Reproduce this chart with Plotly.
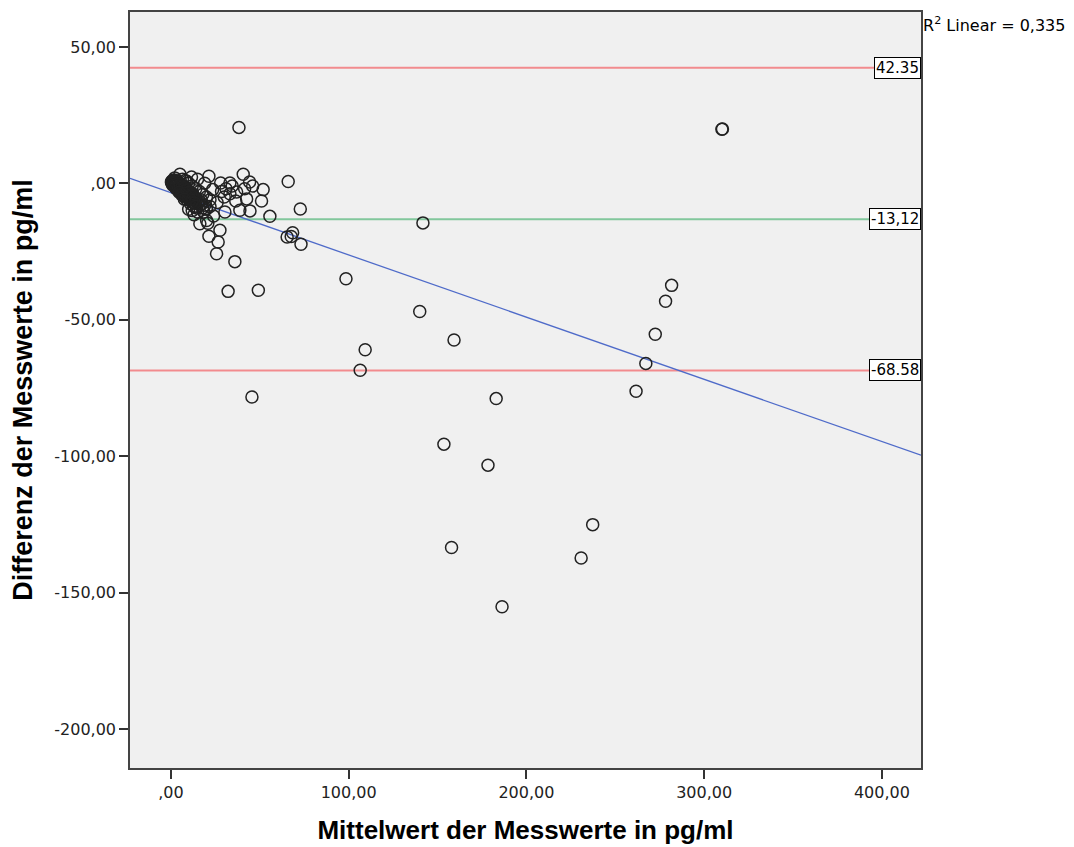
import plotly.graph_objects as go

mean_vals = [
    # outliers / sparse points
    38.3, 310.0, 310.3, 141.8, 98.5, 140.0, 159.3, 109.3, 106.5, 45.6, 32.2, 49.2,
    153.6, 178.4, 157.9, 186.3, 183.0, 230.8, 237.3, 261.7, 267.2, 272.5, 278.3, 281.7,
    # medium cluster
    66.0, 72.8, 68.5, 65.4, 73.2, 67.7, 55.7, 51.9, 51.0, 44.3, 40.7, 42.6, 44.5, 38.8,
    30.4, 27.6, 21.4, 26.6, 25.7, 36.0, 21.4, 28.0, 33.2, 33.2, 37.0, 23.5, 11.6, 5.1,
    20.1, 16.3, 20.8, 34.5, 41.5, 46.0, 30.0, 26.0, 22.0, 17.0, 18.5, 14.5, 13.0, 24.0,
    28.5, 36.5, 31.0,
    # dense blob near origin
    0.5, 1.0, 1.5, 2.0, 2.5, 3.0, 3.5, 4.0, 4.5, 5.0, 5.5, 6.0, 6.5, 7.0, 7.5, 8.0,
    8.5, 9.0, 9.5, 10.0, 10.5, 11.0, 11.5, 12.0, 12.5, 13.0, 13.5, 14.0, 15.0, 16.0,
    16.5, 17.5, 18.0, 19.0, 20.0, 3.0, 5.0, 7.0, 9.0, 11.0, 13.0, 10.0, 12.0, 15.0,
    8.0, 10.0, 12.0, 14.0, 16.0, 18.0, 20.0, 22.0, 2.0, 4.0, 6.0, 8.0, 1.0, 0.8, 2.2,
    6.5, 9.0, 15.0, 19.0,
    0.3, 0.7, 1.2, 1.8, 2.4, 3.2, 3.8, 4.3, 5.2, 5.8, 6.3, 6.8, 7.3, 7.8, 8.3, 8.8,
    9.3, 9.8, 10.3, 10.8, 11.3, 11.8, 12.3, 13.3, 14.3, 1.3, 2.7, 4.7, 6.1, 7.6,
]
diff_vals = [
    20.5, 19.8, 19.9, -14.5, -35.0, -47.0, -57.4, -61.0, -68.5, -78.3, -39.6, -39.2,
    -95.6, -103.3, -133.5, -155.2, -78.9, -137.3, -125.1, -76.2, -66.0, -55.3, -43.2, -37.4,
    0.7, -9.4, -18.1, -19.7, -22.3, -19.5, -12.1, -2.3, -6.5, 0.5, 3.3, -5.7, -10.1, -9.9,
    -10.5, -17.2, -19.4, -21.5, -25.8, -28.7, 2.6, 0.1, 0.1, -3.8, -3.2, -2.3, 2.3, 3.3,
    -13.6, -14.8, -14.6, -1.0, -2.0, -1.0, -5.0, -7.0, -8.5, -6.0, -10.5, -9.0, -11.5, -12.0,
    -3.0, -6.5, -2.0,
    0.8, 1.0, 0.5, 1.2, 0.2, 0.9, -0.5, 0.6, -1.0, 0.0, -1.5, -0.8, -2.0, -1.0, -2.5, -1.8,
    -3.0, -2.2, -3.8, -2.8, -4.2, -3.5, -5.0, -4.0, -5.5, -4.8, -6.5, -5.5, -7.0, -6.5,
    -8.0, -7.5, -9.0, -8.0, -9.5, -2.0, -3.0, -4.5, -6.0, -7.5, -8.5, -9.5, -10.0, -10.5,
    1.0, 0.0, -1.0, -2.0, -3.0, -4.0, -5.0, -6.0, -1.0, -2.5, -3.5, -5.0, 0.0, -0.4, 2.0,
    1.5, 0.8, 1.5, 0.0,
    0.4, 0.3, 0.0, 0.6, -0.6, -0.3, -1.2, -1.6, -0.4, -2.6, -1.3, -3.0, -2.0, -3.8, -2.6, -4.6,
    -3.6, -5.2, -3.3, -6.0, -4.6, -6.8, -3.8, -7.2, -8.4, -0.8, -1.6, -3.3, -4.2, -5.8,
]

upper_loa = 42.35
mean_diff = -13.12
lower_loa = -68.58
loa_labels = ["42.35", "-13,12", "-68.58"]

reg_intercept = -3.44
reg_slope = -0.228
r2_text = "R<sup>2</sup> Linear = 0,335"

x_range = [-23, 422]
y_range = [-214.3, 62.8]
x_ticks = [0, 100, 200, 300, 400]
x_ticktext = [",00", "100,00", "200,00", "300,00", "400,00"]
y_ticks = [50, 0, -50, -100, -150, -200]
y_ticktext = ["50,00", ",00", "-50,00", "-100,00", "-150,00", "-200,00"]

x_title = "Mittelwert der Messwerte in pg/ml"
y_title = "Differenz der Messwerte in pg/ml"

RED = "#f28b8e"
GREEN = "#82c79c"
BLUE = "#4f6bc9"
TEXT_FONT = "DejaVu Sans, Liberation Sans, Arial"
TITLE_FONT = "Liberation Sans, Arial"

fig = go.Figure()

# horizontal reference lines
for val, col in [(upper_loa, RED), (mean_diff, GREEN), (lower_loa, RED)]:
    fig.add_trace(go.Scatter(x=x_range, y=[val, val], mode="lines",
                             line=dict(color=col, width=2), hoverinfo="skip",
                             showlegend=False))

# regression line
fig.add_trace(go.Scatter(x=x_range,
                         y=[reg_intercept + reg_slope * xv for xv in x_range],
                         mode="lines", line=dict(color=BLUE, width=1.3),
                         showlegend=False, hoverinfo="skip"))

# points
fig.add_trace(go.Scatter(x=mean_vals, y=diff_vals, mode="markers",
                         marker=dict(symbol="circle-open", size=12,
                                     color="#222222", line=dict(width=1.5)),
                         showlegend=False))

annotations = []
for val, lab in zip([upper_loa, mean_diff, lower_loa], loa_labels):
    annotations.append(dict(x=1, xref="paper", y=val, yref="y", text=lab,
                            xanchor="right", yanchor="middle", showarrow=False,
                            bgcolor="white", bordercolor="black", borderwidth=1,
                            borderpad=1,
                            font=dict(family=TEXT_FONT, size=15, color="black")))
annotations.append(dict(x=1, xref="paper", y=0.983, yref="paper", text=r2_text,
                        xanchor="left", yanchor="middle", showarrow=False,
                        font=dict(family=TEXT_FONT, size=16, color="black")))

axis_common = dict(showline=True, linecolor="#444444", linewidth=1.5,
                   mirror=True, showgrid=False, zeroline=False, automargin=False,
                   ticks="outside", ticklen=9, tickwidth=2, tickcolor="#333333",
                   tickfont=dict(family=TEXT_FONT, size=16, color="#222222"))

fig.update_layout(
    width=1074, height=847,
    margin=dict(l=130, r=153, t=12, b=79),
    paper_bgcolor="white", plot_bgcolor="#f0f0f0",
    xaxis=dict(range=x_range, tickvals=x_ticks, ticktext=x_ticktext,
               title=dict(text=f"<b>{x_title}</b>", standoff=20,
                          font=dict(family=TITLE_FONT, size=26, color="black")),
               **axis_common),
    yaxis=dict(range=y_range, tickvals=y_ticks, ticktext=y_ticktext,
               title=dict(text=f"<b>{y_title}</b>", standoff=14,
                          font=dict(family=TITLE_FONT, size=27, color="black")),
               **axis_common),
    annotations=annotations,
)

fig.write_html("out.html")
